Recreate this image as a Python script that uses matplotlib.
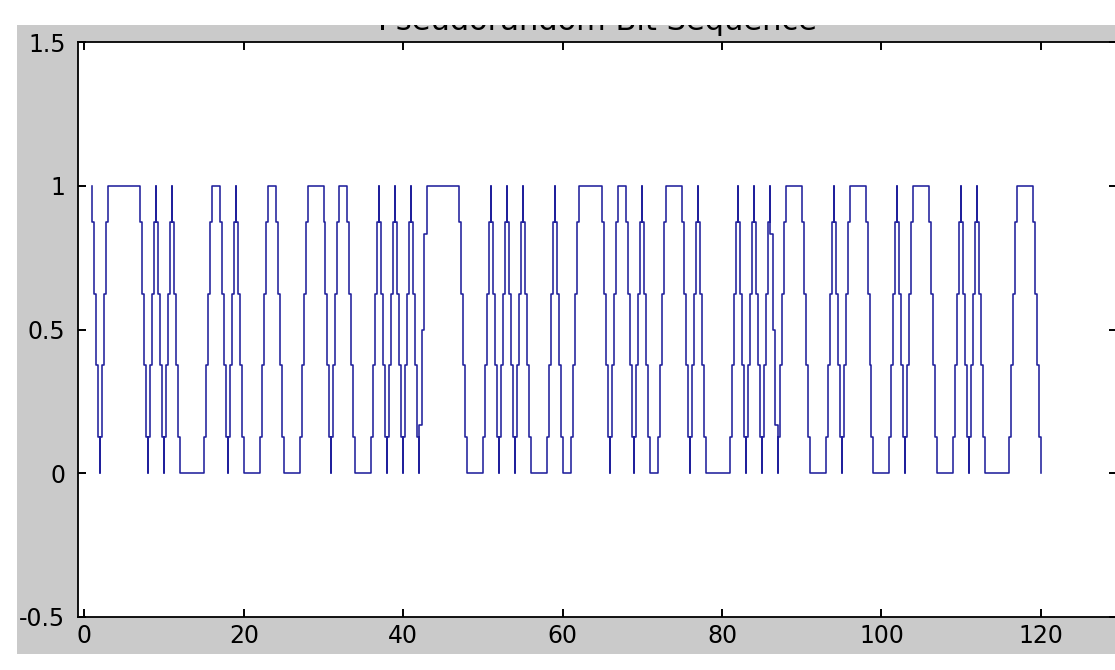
import numpy as np
import matplotlib
matplotlib.use('Agg')
import matplotlib.pyplot as plt
from matplotlib.patches import Rectangle

# bit value at each integer time t = 1..120
bit_t = np.arange(1, 121)
bits = [1, 0, 1, 1, 1, 1, 1, 0, 1, 0,
        1, 0, 0, 0, 0, 1, 1, 0, 1, 0,
        0, 0, 1, 1, 0, 0, 0, 1, 1, 1,
        0, 1, 1, 0, 0, 0, 1, 0, 1, 0,
        1, 0, 1, 1, 1, 1, 1, 0, 0, 0,
        1, 0, 1, 0, 1, 0, 0, 0, 1, 0,
        0, 1, 1, 1, 1, 0, 1, 1, 0, 1,
        0, 0, 1, 1, 1, 0, 1, 0, 0, 0,
        0, 1, 0, 1, 0, 1, 0, 1, 1, 1,
        0, 0, 0, 1, 0, 1, 1, 1, 0, 0,
        0, 1, 0, 1, 1, 1, 0, 0, 0, 1,
        0, 1, 0, 0, 0, 0, 1, 1, 1, 0]
# sub-steps per transition (two transitions in the picture use 3 instead of 4)
default_steps = 4
odd_steps = {42: 3, 86: 3}

x_ticks = [0, 20, 40, 60, 80, 100, 120]
y_ticks = [-0.5, 0, 0.5, 1, 1.5]
title = 'Pseudorandom Bit Sequence'

# staircase waveform: each change of bit ramps through odd fractions
xs, ys = [], []
for i in range(len(bits) - 1):
    t, b0, b1 = bit_t[i], bits[i], bits[i + 1]
    xs.append(t); ys.append(b0)
    if b0 != b1:
        n = odd_steps.get(t, default_steps)
        for k in range(n):
            xs.append(t + k / n)
            ys.append(b0 + (b1 - b0) * (2 * k + 1) / (2 * n))
xs.append(bit_t[-1]); ys.append(bits[-1])

plt.rcParams['font.family'] = ['DejaVu Sans']
plt.rcParams['axes.unicode_minus'] = False

W, H = 1115, 670
fig = plt.figure(figsize=(W / 100, H / 100), dpi=100)
fig.patch.set_facecolor('white')
# grey MATLAB-style figure area
fig.patches.append(Rectangle((17 / W, 16 / H), 1 - 17 / W, (654 - 25) / H,
                             transform=fig.transFigure, facecolor='#cacaca',
                             edgecolor='none', zorder=-5))

ax = fig.add_axes([78 / W, 1 - 617 / H, (1117 - 78) / W, (617 - 42) / H])
ax.set_facecolor('white')
ax.plot(xs, ys, drawstyle='steps-post', color='#20209c', linewidth=1.15)

ax.set_xlim(-0.8, 129.55)
ax.set_ylim(-0.5, 1.5)
ax.set_xticks(x_ticks)
ax.set_yticks(y_ticks)
ax.set_xticklabels([f'{v:g}' for v in x_ticks])
ax.set_yticklabels([f'{v:g}' for v in y_ticks])
ax.tick_params(direction='in', top=True, right=True, length=6, width=1.4,
               labelsize=17, colors='black')
ax.tick_params(axis='x', pad=5)
ax.tick_params(axis='y', pad=9)
for s in ax.spines.values():
    s.set_linewidth(1.3)
    s.set_color('black')

ax.set_title(title, fontsize=22, pad=9)

# top strip of the picture is white and cuts the title
fig.patches.append(Rectangle((0, 1 - 25 / H), 1, 25 / H, transform=fig.transFigure,
                             facecolor='white', edgecolor='none', zorder=10))

fig.savefig('out.png', dpi=100)
